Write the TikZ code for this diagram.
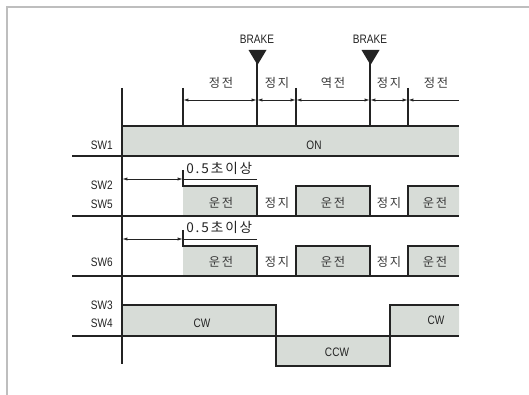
\documentclass[tikz,border=0pt]{standalone}
\usepackage{fontspec}
\setmainfont{Liberation Sans}
\newfontfamily\kofont[LetterSpace=14]{Noto Sans CJK KR}
\newfontfamily\narrowfont[FakeStretch=0.82]{Liberation Sans}
\usetikzlibrary{arrows.meta}
\definecolor{band}{RGB}{215,220,215}
\definecolor{ink}{RGB}{35,35,35}
\definecolor{framegray}{RGB}{190,190,190}
\tikzset{
  sigline/.style={draw=ink, line width=1pt},
  dimline/.style={draw=ink, line width=0.7pt},
  lbl/.style={inner sep=0.75pt, text=ink, font=\narrowfont\fontsize{9.2}{10}\selectfont},
  kor/.style={inner sep=0.75pt, text=ink!90, font=\kofont\fontsize{9.2}{10}\selectfont},
  korbig/.style={inner sep=0.75pt, text=ink, font=\kofont\fontsize{10.2}{11}\selectfont},
  tip/.tip={Latex[length=4pt,width=2.4pt]}
}
\begin{document}
\begin{tikzpicture}[x=0.75pt,y=0.75pt,yscale=-1,xscale=1]
\useasboundingbox (0,0) rectangle (529,395);

%Frame
\draw [framegray, line width=1.1pt] (7,395) -- (7,7) -- (529,7) ;

%Shape: SW1 band
\fill [band] (122,126) rectangle (459,156) ;
%Shape: SW2 SW5 pulses
\fill [band] (183,186) rectangle (257,216) (296,186) rectangle (370,216) (408,186) rectangle (459,216) ;
%Shape: SW6 pulses
\fill [band] (183,246) rectangle (257,276) (296,246) rectangle (370,276) (408,246) rectangle (459,276) ;
%Shape: SW3 SW4 direction
\fill [band] (122,305) rectangle (276,336) (276,336) rectangle (390,366) (390,305) rectangle (459,336) ;

%Straight Lines: axis
\draw [sigline] (122,88) -- (122,364) ;
%Straight Lines: base lines
\draw [sigline] (122,126) -- (459,126) ;
\draw [sigline] (72,156) -- (459,156) ;
\draw [sigline] (72,216) -- (459,216) ;
\draw [sigline] (72,276) -- (459,276) ;
\draw [sigline] (72,336) -- (459,336) ;
%Straight Lines: pulses
\draw [sigline] (183,170) -- (183,186) -- (257,186) -- (257,216) (296,216) -- (296,186) -- (370,186) -- (370,216) (408,216) -- (408,186) -- (459,186) ;
\draw [sigline] (183,230) -- (183,246) -- (257,246) -- (257,276) (296,276) -- (296,246) -- (370,246) -- (370,276) (408,276) -- (408,246) -- (459,246) ;
\draw [sigline] (122,305) -- (276,305) -- (276,366) -- (390,366) -- (390,305) -- (459,305) ;

%Straight Lines: time marks
\draw [sigline] (183,88) -- (183,126) (296,88) -- (296,126) (408,88) -- (408,126) ;
\draw [sigline] (257,58) -- (257,126) (370,58) -- (370,126) ;
%Shape: brake triangles
\fill [ink] (248.5,50) -- (266.5,50) -- (257.5,65) -- cycle ;
\fill [ink] (361.5,50) -- (379.5,50) -- (370.5,65) -- cycle ;

%Dimension arrows
\draw [dimline, tip-tip] (183,100) -- (257,100) ;
\draw [dimline, tip-tip] (257,100) -- (296,100) ;
\draw [dimline, tip-tip] (296,100) -- (370,100) ;
\draw [dimline, tip-tip] (370,100) -- (408,100) ;
\draw [dimline, tip-] (408,100) -- (459,100) ;
\draw [dimline, tip-tip] (122,179) -- (183,179) ;
\draw [dimline] (183,179) -- (257,179) ;
\draw [dimline, tip-tip] (122,239) -- (183,239) ;
\draw [dimline] (183,239) -- (257,239) ;

% Text Node
\draw (257,39) node [lbl] {BRAKE};
\draw (370,39) node [lbl] {BRAKE};
% Text Node
\draw (221,83) node [kor] {정전};
\draw (277,83) node [kor] {정지};
\draw (333,83) node [kor] {역전};
\draw (389,83) node [kor] {정지};
\draw (436,83) node [kor] {정전};
% Text Node
\draw (114,145) node [lbl, anchor=east] {SW1};
\draw (114,185) node [lbl, anchor=east] {SW2};
\draw (114,204) node [lbl, anchor=east] {SW5};
\draw (114,262) node [lbl, anchor=east] {SW6};
\draw (114,305) node [lbl, anchor=east] {SW3};
\draw (114,323) node [lbl, anchor=east] {SW4};
% Text Node
\draw (314,145) node [lbl] {ON};
\draw (202,323) node [lbl] {CW};
\draw (436,320) node [lbl] {CW};
\draw (337,352) node [lbl] {CCW};
% Text Node
\draw (185,168) node [korbig, anchor=west] {0.5초이상};
\draw (185,227) node [korbig, anchor=west] {0.5초이상};
% Text Node
\draw (221,203) node [kor] {운전};
\draw (277,203) node [kor] {정지};
\draw (333,203) node [kor] {운전};
\draw (389,203) node [kor] {정지};
\draw (435,203) node [kor] {운전};
\draw (221,262) node [kor] {운전};
\draw (277,262) node [kor] {정지};
\draw (333,262) node [kor] {운전};
\draw (389,262) node [kor] {정지};
\draw (435,262) node [kor] {운전};

\end{tikzpicture}
\end{document}
